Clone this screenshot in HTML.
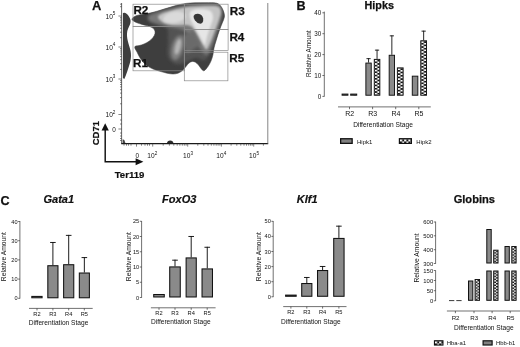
<!DOCTYPE html>
<html><head><meta charset="utf-8"><title>Figure</title>
<style>html,body{margin:0;padding:0;background:#fff;}body{width:520px;height:347px;overflow:hidden;}svg{display:block;filter:blur(0.35px);}text{font-family:"Liberation Sans", "DejaVu Sans", sans-serif;fill:#111;}</style>
</head><body>
<svg width="520" height="347" viewBox="0 0 520 347">
<defs>
<pattern id="chkB" width="5.0" height="3.3" patternUnits="userSpaceOnUse"><rect width="5.0" height="3.3" fill="#111"/><rect x="0" y="0" width="2.5" height="1.65" fill="#fff"/><rect x="2.5" y="1.65" width="2.5" height="1.65" fill="#fff"/></pattern>
<pattern id="chkG" width="3.8" height="2.9" patternUnits="userSpaceOnUse"><rect width="3.8" height="2.9" fill="#111"/><rect x="0" y="0" width="1.9" height="1.45" fill="#fff"/><rect x="1.9" y="1.45" width="1.9" height="1.45" fill="#fff"/></pattern>
<pattern id="chkL" width="4.2" height="4.2" patternUnits="userSpaceOnUse"><rect width="4.2" height="4.2" fill="#111"/><rect x="0" y="0" width="2.1" height="2.1" fill="#fff"/><rect x="2.1" y="2.1" width="2.1" height="2.1" fill="#fff"/></pattern>
<filter id="b1" x="-30%" y="-30%" width="160%" height="160%"><feGaussianBlur stdDeviation="1.6"/></filter>
<filter id="b2" x="-30%" y="-30%" width="160%" height="160%"><feGaussianBlur stdDeviation="1.0"/></filter>
<filter id="b3" x="-30%" y="-30%" width="160%" height="160%"><feGaussianBlur stdDeviation="0.5"/></filter>
<filter id="soft" x="-5%" y="-5%" width="110%" height="110%"><feGaussianBlur stdDeviation="0.35"/></filter>
<clipPath id="blobclip"><path d="M132.00,19.30 C132.08,18.60 133.00,17.48 134.00,16.80 C135.00,16.12 136.17,15.68 138.00,15.20 C139.83,14.72 142.67,14.33 145.00,13.90 C147.33,13.47 149.33,13.25 152.00,12.60 C154.67,11.95 158.00,10.88 161.00,10.00 C164.00,9.12 167.17,8.13 170.00,7.30 C172.83,6.47 175.33,5.65 178.00,5.00 C180.67,4.35 183.17,3.77 186.00,3.40 C188.83,3.03 191.67,2.92 195.00,2.80 C198.33,2.68 202.58,2.68 206.00,2.70 C209.42,2.72 213.17,2.48 215.50,2.90 C217.83,3.32 218.75,4.02 220.00,5.20 C221.25,6.38 222.25,8.28 223.00,10.00 C223.75,11.72 224.42,13.83 224.50,15.50 C224.58,17.17 224.08,18.25 223.50,20.00 C222.92,21.75 221.83,23.83 221.00,26.00 C220.17,28.17 219.33,30.50 218.50,33.00 C217.67,35.50 216.75,38.50 216.00,41.00 C215.25,43.50 214.52,45.67 214.00,48.00 C213.48,50.33 213.40,52.83 212.90,55.00 C212.40,57.17 211.82,59.08 211.00,61.00 C210.18,62.92 209.17,64.87 208.00,66.50 C206.83,68.13 205.17,70.47 204.00,70.80 C202.83,71.13 201.92,69.47 201.00,68.50 C200.08,67.53 199.42,66.03 198.50,65.00 C197.58,63.97 196.53,62.90 195.50,62.30 C194.47,61.70 193.38,61.28 192.30,61.40 C191.22,61.52 190.05,62.15 189.00,63.00 C187.95,63.85 187.08,65.25 186.00,66.50 C184.92,67.75 183.83,69.38 182.50,70.50 C181.17,71.62 179.58,72.62 178.00,73.20 C176.42,73.78 174.83,74.00 173.00,74.00 C171.17,74.00 169.17,73.65 167.00,73.20 C164.83,72.75 162.33,72.00 160.00,71.30 C157.67,70.60 155.08,69.88 153.00,69.00 C150.92,68.12 149.17,67.17 147.50,66.00 C145.83,64.83 144.33,63.50 143.00,62.00 C141.67,60.50 140.50,58.67 139.50,57.00 C138.50,55.33 137.75,53.42 137.00,52.00 C136.25,50.58 135.30,49.45 135.00,48.50 C134.70,47.55 134.53,46.78 135.20,46.30 C135.87,45.82 137.53,45.98 139.00,45.60 C140.47,45.22 142.33,44.72 144.00,44.00 C145.67,43.28 147.50,42.38 149.00,41.30 C150.50,40.22 152.00,38.80 153.00,37.50 C154.00,36.20 154.75,34.75 155.00,33.50 C155.25,32.25 155.00,30.98 154.50,30.00 C154.00,29.02 153.17,28.30 152.00,27.60 C150.83,26.90 149.17,26.33 147.50,25.80 C145.83,25.27 143.75,24.90 142.00,24.40 C140.25,23.90 138.42,23.37 137.00,22.80 C135.58,22.23 134.33,21.58 133.50,21.00 C132.67,20.42 131.92,20.00 132.00,19.30 Z"/></clipPath>
</defs>
<rect width="520" height="347" fill="#fff"/>
<g id="panelA">
<path d="M132.00,19.30 C132.08,18.60 133.00,17.48 134.00,16.80 C135.00,16.12 136.17,15.68 138.00,15.20 C139.83,14.72 142.67,14.33 145.00,13.90 C147.33,13.47 149.33,13.25 152.00,12.60 C154.67,11.95 158.00,10.88 161.00,10.00 C164.00,9.12 167.17,8.13 170.00,7.30 C172.83,6.47 175.33,5.65 178.00,5.00 C180.67,4.35 183.17,3.77 186.00,3.40 C188.83,3.03 191.67,2.92 195.00,2.80 C198.33,2.68 202.58,2.68 206.00,2.70 C209.42,2.72 213.17,2.48 215.50,2.90 C217.83,3.32 218.75,4.02 220.00,5.20 C221.25,6.38 222.25,8.28 223.00,10.00 C223.75,11.72 224.42,13.83 224.50,15.50 C224.58,17.17 224.08,18.25 223.50,20.00 C222.92,21.75 221.83,23.83 221.00,26.00 C220.17,28.17 219.33,30.50 218.50,33.00 C217.67,35.50 216.75,38.50 216.00,41.00 C215.25,43.50 214.52,45.67 214.00,48.00 C213.48,50.33 213.40,52.83 212.90,55.00 C212.40,57.17 211.82,59.08 211.00,61.00 C210.18,62.92 209.17,64.87 208.00,66.50 C206.83,68.13 205.17,70.47 204.00,70.80 C202.83,71.13 201.92,69.47 201.00,68.50 C200.08,67.53 199.42,66.03 198.50,65.00 C197.58,63.97 196.53,62.90 195.50,62.30 C194.47,61.70 193.38,61.28 192.30,61.40 C191.22,61.52 190.05,62.15 189.00,63.00 C187.95,63.85 187.08,65.25 186.00,66.50 C184.92,67.75 183.83,69.38 182.50,70.50 C181.17,71.62 179.58,72.62 178.00,73.20 C176.42,73.78 174.83,74.00 173.00,74.00 C171.17,74.00 169.17,73.65 167.00,73.20 C164.83,72.75 162.33,72.00 160.00,71.30 C157.67,70.60 155.08,69.88 153.00,69.00 C150.92,68.12 149.17,67.17 147.50,66.00 C145.83,64.83 144.33,63.50 143.00,62.00 C141.67,60.50 140.50,58.67 139.50,57.00 C138.50,55.33 137.75,53.42 137.00,52.00 C136.25,50.58 135.30,49.45 135.00,48.50 C134.70,47.55 134.53,46.78 135.20,46.30 C135.87,45.82 137.53,45.98 139.00,45.60 C140.47,45.22 142.33,44.72 144.00,44.00 C145.67,43.28 147.50,42.38 149.00,41.30 C150.50,40.22 152.00,38.80 153.00,37.50 C154.00,36.20 154.75,34.75 155.00,33.50 C155.25,32.25 155.00,30.98 154.50,30.00 C154.00,29.02 153.17,28.30 152.00,27.60 C150.83,26.90 149.17,26.33 147.50,25.80 C145.83,25.27 143.75,24.90 142.00,24.40 C140.25,23.90 138.42,23.37 137.00,22.80 C135.58,22.23 134.33,21.58 133.50,21.00 C132.67,20.42 131.92,20.00 132.00,19.30 Z" fill="#3e3e3e" stroke="#3e3e3e" stroke-width="0.5" stroke-linejoin="round"/>
<g clip-path="url(#blobclip)">
<path d="M150.00,14.00 C153.33,11.67 163.33,9.50 170.00,8.00 C176.67,6.50 182.17,5.58 190.00,5.00 C197.83,4.42 211.58,3.17 217.00,4.50 C222.42,5.83 222.50,8.42 222.50,13.00 C222.50,17.58 218.92,25.83 217.00,32.00 C215.08,38.17 213.00,45.33 211.00,50.00 C209.00,54.67 207.50,58.67 205.00,60.00 C202.50,61.33 199.17,57.67 196.00,58.00 C192.83,58.33 189.33,61.00 186.00,62.00 C182.67,63.00 179.00,65.00 176.00,64.00 C173.00,63.00 169.33,60.00 168.00,56.00 C166.67,52.00 168.33,44.83 168.00,40.00 C167.67,35.17 169.00,30.00 166.00,27.00 C163.00,24.00 152.67,24.17 150.00,22.00 C147.33,19.83 146.67,16.33 150.00,14.00 Z" fill="#525252" filter="url(#b1)"/>
<path d="M149.00,16.00 C150.42,14.67 154.50,13.70 158.00,12.50 C161.50,11.30 165.33,9.92 170.00,8.80 C174.67,7.68 180.33,6.50 186.00,5.80 C191.67,5.10 198.58,4.73 204.00,4.60 C209.42,4.47 215.50,3.85 218.50,5.00 C221.50,6.15 221.70,8.67 222.00,11.50 C222.30,14.33 221.25,18.25 220.30,22.00 C219.35,25.75 217.68,30.00 216.30,34.00 C214.92,38.00 213.55,42.50 212.00,46.00 C210.45,49.50 208.67,54.17 207.00,55.00 C205.33,55.83 203.83,53.00 202.00,51.00 C200.17,49.00 198.17,45.67 196.00,43.00 C193.83,40.33 191.33,37.25 189.00,35.00 C186.67,32.75 185.17,30.83 182.00,29.50 C178.83,28.17 174.00,27.92 170.00,27.00 C166.00,26.08 161.42,25.08 158.00,24.00 C154.58,22.92 151.00,21.83 149.50,20.50 C148.00,19.17 147.58,17.33 149.00,16.00 Z" fill="#787878" filter="url(#b1)"/>
<path d="M181,37 L194,30 L201,44 L187,54 Z" fill="#6a6a6a" filter="url(#b1)"/>
<ellipse cx="177.4" cy="47.8" rx="5.8" ry="12.5" fill="#828282" filter="url(#b1)" transform="rotate(14 177.4 47.8)"/>
<ellipse cx="177.9" cy="46.8" rx="2.8" ry="8" fill="#b6b6b6" filter="url(#b2)" transform="rotate(14 177.9 46.8)"/>
<path d="M158.00,17.50 C157.67,15.93 159.67,14.78 162.00,13.60 C164.33,12.42 168.00,11.45 172.00,10.40 C176.00,9.35 180.67,8.02 186.00,7.30 C191.33,6.58 198.75,6.23 204.00,6.10 C209.25,5.97 214.70,5.60 217.50,6.50 C220.30,7.40 220.52,9.42 220.80,11.50 C221.08,13.58 220.00,16.25 219.20,19.00 C218.40,21.75 217.10,25.00 216.00,28.00 C214.90,31.00 213.72,34.17 212.60,37.00 C211.48,39.83 210.35,42.92 209.30,45.00 C208.25,47.08 207.42,49.58 206.30,49.50 C205.18,49.42 203.98,46.75 202.60,44.50 C201.22,42.25 199.60,38.75 198.00,36.00 C196.40,33.25 194.83,29.83 193.00,28.00 C191.17,26.17 190.00,25.45 187.00,25.00 C184.00,24.55 178.83,25.63 175.00,25.30 C171.17,24.97 166.83,24.30 164.00,23.00 C161.17,21.70 158.33,19.07 158.00,17.50 Z" fill="#c4c4c4" filter="url(#b2)"/>
<ellipse cx="174.5" cy="17.4" rx="11.5" ry="5.6" fill="#dadada" filter="url(#b2)" transform="rotate(-10 174.5 17.4)"/>
<path d="M190.00,12.00 C190.90,10.28 193.67,9.67 196.00,9.20 C198.33,8.73 201.50,8.82 204.00,9.20 C206.50,9.58 209.50,10.03 211.00,11.50 C212.50,12.97 213.07,15.58 213.00,18.00 C212.93,20.42 211.40,23.50 210.60,26.00 C209.80,28.50 208.92,30.67 208.20,33.00 C207.48,35.33 206.83,38.00 206.30,40.00 C205.77,42.00 205.75,45.00 205.00,45.00 C204.25,45.00 202.97,42.00 201.80,40.00 C200.63,38.00 199.30,35.33 198.00,33.00 C196.70,30.67 195.23,28.25 194.00,26.00 C192.77,23.75 191.27,21.83 190.60,19.50 C189.93,17.17 189.10,13.72 190.00,12.00 Z" fill="#e6e6e6" filter="url(#b2)"/>
<path d="M193.6,16 Q194.5,13.6 198,13.8 Q202.5,14.6 203.2,18.5 Q203.6,23.2 200.4,23.8 Q197.4,23.6 195,20.5 Q193.2,18 193.6,16 Z" fill="#363636" filter="url(#b3)"/>
</g>
<path d="M122.9,13 L124.80,12.80 C125.20,13.05 126.47,13.60 127.20,14.30 C127.93,15.00 128.65,16.05 129.20,17.00 C129.75,17.95 130.32,18.92 130.50,20.00 C130.68,21.08 130.58,22.33 130.30,23.50 C130.02,24.67 129.30,25.75 128.80,27.00 C128.30,28.25 127.60,29.50 127.30,31.00 C127.00,32.50 126.92,34.33 127.00,36.00 C127.08,37.67 127.43,39.33 127.80,41.00 C128.17,42.67 128.73,44.33 129.20,46.00 C129.67,47.67 130.30,49.33 130.60,51.00 C130.90,52.67 131.03,54.33 131.00,56.00 C130.97,57.67 130.73,59.33 130.40,61.00 C130.07,62.67 129.50,64.33 129.00,66.00 C128.50,67.67 127.93,69.42 127.40,71.00 C126.87,72.58 126.32,74.17 125.80,75.50 C125.28,76.83 124.55,78.42 124.30,79.00 L122.9,78 Z" fill="#3e3e3e"/>
<path d="M166.9,143.4 Q167.2,140.6 170.2,140.4 Q173.2,140.6 173.5,143.4 Z" fill="#2a2a2a"/>
<path d="M122.6,139.3 L124.3,140 L125.4,142.9 L122.6,142.9 Z" fill="#444"/>
<rect x="133" y="4.2" width="51.3" height="22.1" fill="none" stroke="#8a8a8a" stroke-width="0.7"/>
<rect x="133" y="26.5" width="51.3" height="44.3" fill="none" stroke="#8a8a8a" stroke-width="0.7"/>
<rect x="184.3" y="4.2" width="43.8" height="25.2" fill="none" stroke="#8a8a8a" stroke-width="0.7"/>
<rect x="184.3" y="29.6" width="43.8" height="20.8" fill="none" stroke="#8a8a8a" stroke-width="0.7"/>
<rect x="184.3" y="52.2" width="43.6" height="28.6" fill="none" stroke="#8a8a8a" stroke-width="0.7"/>
<path d="M121.6,3 V143.6" fill="none" stroke="#333" stroke-width="0.75"/>
<path d="M121.2,143.7 H268.2" fill="none" stroke="#1a1a1a" stroke-width="1.2"/>
<path d="M267.8,3 V143.6" stroke="#777" stroke-width="0.9"/>
<path d="M118.4,16 H121.6 M118.4,47 H121.6 M118.4,79 H121.6 M118.4,114.5 H121.6 M118.4,129 H121.6 M120,37.7 H121.6 M120,32.2 H121.6 M120,28.3 H121.6 M120,25.3 H121.6 M120,22.9 H121.6 M120,20.8 H121.6 M120,19.0 H121.6 M120,17.4 H121.6 M120,69.4 H121.6 M120,63.7 H121.6 M120,59.7 H121.6 M120,56.6 H121.6 M120,54.1 H121.6 M120,52.0 H121.6 M120,50.1 H121.6 M120,48.5 H121.6 M120,103.8 H121.6 M120,97.6 H121.6 M120,93.1 H121.6 M120,89.7 H121.6 M120,86.9 H121.6 M120,84.5 H121.6 M120,82.4 H121.6 M120,80.6 H121.6 M120,6.7 H121.6 M120,4.2 H121.6 M120,120.0 H121.6 M120,124.0 H121.6 M120,133.0 H121.6 M120,136.0 H121.6 M120,138.5 H121.6 M120,140.5 H121.6 M136.5,143.6 V146.6 M152.7,143.6 V146.6 M187.7,143.6 V146.6 M221.4,143.6 V146.6 M253.7,143.6 V146.6 M163.2,143.6 V145.7 M169.4,143.6 V145.7 M173.8,143.6 V145.7 M177.2,143.6 V145.7 M179.9,143.6 V145.7 M182.3,143.6 V145.7 M184.3,143.6 V145.7 M186.1,143.6 V145.7 M197.8,143.6 V145.7 M203.8,143.6 V145.7 M208.0,143.6 V145.7 M211.3,143.6 V145.7 M213.9,143.6 V145.7 M216.2,143.6 V145.7 M218.1,143.6 V145.7 M219.9,143.6 V145.7 M231.1,143.6 V145.7 M236.8,143.6 V145.7 M240.8,143.6 V145.7 M244.0,143.6 V145.7 M246.5,143.6 V145.7 M248.7,143.6 V145.7 M250.6,143.6 V145.7 M252.2,143.6 V145.7 M263.4,143.6 V145.7 M124.0,143.6 V145.7 M126.5,143.6 V145.7 M128.5,143.6 V145.7 M131.0,143.6 V145.7 M141.5,143.6 V145.7 M145.0,143.6 V145.7 M147.5,143.6 V145.7 M149.5,143.6 V145.7" stroke="#333" stroke-width="0.6" fill="none"/>
<text x="115.4" y="18.7" font-size="6.6" text-anchor="end" fill="#333">10<tspan dy="-3.3" font-size="4.619999999999999">5</tspan></text>
<text x="115.4" y="49.7" font-size="6.6" text-anchor="end" fill="#333">10<tspan dy="-3.3" font-size="4.619999999999999">4</tspan></text>
<text x="115.4" y="81.7" font-size="6.6" text-anchor="end" fill="#333">10<tspan dy="-3.3" font-size="4.619999999999999">3</tspan></text>
<text x="115.4" y="117.2" font-size="6.6" text-anchor="end" fill="#333">10<tspan dy="-3.3" font-size="4.619999999999999">2</tspan></text>
<text x="115.9" y="131.5" font-size="6.4" text-anchor="end" fill="#333">0</text>
<text x="137.3" y="157.8" font-size="6.4" text-anchor="middle" fill="#333">0</text>
<text x="152.3" y="157.8" font-size="6.6" text-anchor="middle" fill="#333">10<tspan dy="-3.3" font-size="4.619999999999999">2</tspan></text>
<text x="188" y="157.8" font-size="6.6" text-anchor="middle" fill="#333">10<tspan dy="-3.3" font-size="4.619999999999999">3</tspan></text>
<text x="221.3" y="157.8" font-size="6.6" text-anchor="middle" fill="#333">10<tspan dy="-3.3" font-size="4.619999999999999">4</tspan></text>
<text x="254" y="157.8" font-size="6.6" text-anchor="middle" fill="#333">10<tspan dy="-3.3" font-size="4.619999999999999">5</tspan></text>
<text x="133.4" y="13.9" font-size="11.7" font-weight="bold" stroke="#111" stroke-width="0.25">R2</text>
<text x="229.7" y="14.5" font-size="11.7" font-weight="bold" stroke="#111" stroke-width="0.25">R3</text>
<text x="229.4" y="40.6" font-size="11.7" font-weight="bold" stroke="#111" stroke-width="0.25">R4</text>
<text x="229.2" y="62.2" font-size="11.7" font-weight="bold" stroke="#111" stroke-width="0.25">R5</text>
<text x="133.1" y="67.3" font-size="11.7" font-weight="bold" stroke="#111" stroke-width="0.25">R1</text>
<text x="91.9" y="10.1" font-size="12.9" font-weight="bold" stroke="#111" stroke-width="0.25">A</text>
<path d="M105.2,128 V161.8 H137" fill="none" stroke="#111" stroke-width="1.45"/>
<path d="M105.2,123.2 L108.8,130.4 H101.6 Z" fill="#111"/>
<path d="M143.4,161.8 L135.6,165.3 V158.3 Z" fill="#111"/>
<text transform="translate(98.9,145.3) rotate(-90)" font-size="9.5" font-weight="bold" stroke="#111" stroke-width="0.2">CD71</text>
<text x="114.7" y="177.7" font-size="9.6" font-weight="bold" stroke="#111" stroke-width="0.2">Ter119</text>
</g>
<g id="panelB">
<text x="296.6" y="10.2" font-size="12.6" font-weight="bold" stroke="#111" stroke-width="0.25">B</text>
<text x="379.2" y="8.5" font-size="10.8" font-weight="bold" stroke="#111" stroke-width="0.25" text-anchor="middle">Hipks</text>
<path d="M324.3,11.6 V96.6" stroke="#333" stroke-width="0.7" fill="none"/>
<path d="M322.4,96.40 H324.3" stroke="#333" stroke-width="0.7"/>
<text x="321.2" y="98.70" font-size="6.3" text-anchor="end" fill="#222">0</text>
<path d="M322.4,75.50 H324.3" stroke="#333" stroke-width="0.7"/>
<text x="321.2" y="77.80" font-size="6.3" text-anchor="end" fill="#222">10</text>
<path d="M322.4,54.60 H324.3" stroke="#333" stroke-width="0.7"/>
<text x="321.2" y="56.90" font-size="6.3" text-anchor="end" fill="#222">20</text>
<path d="M322.4,33.70 H324.3" stroke="#333" stroke-width="0.7"/>
<text x="321.2" y="36.00" font-size="6.3" text-anchor="end" fill="#222">30</text>
<path d="M322.4,12.80 H324.3" stroke="#333" stroke-width="0.7"/>
<text x="321.2" y="15.10" font-size="6.3" text-anchor="end" fill="#222">40</text>
<text transform="translate(310.8,53.8) rotate(-90)" font-size="6.4" text-anchor="middle" fill="#333">Relative Amount</text>
<rect x="342.08" y="94.07" width="5.85" height="1.15" fill="#8a8a8a" stroke="#111" stroke-width="0.95"/>
<g transform="translate(351.15,94.55)"><rect x="-0.47" y="-0.47" width="6.05" height="1.15" fill="url(#chkB)" stroke="#111" stroke-width="0.95"/></g>
<path d="M368.55,62.60 V58.20 M366.45,58.65 H370.65" stroke="#111" stroke-width="0.9" fill="none"/>
<path d="M377.05,58.90 V49.70 M374.95,50.15 H379.15" stroke="#111" stroke-width="0.9" fill="none"/>
<rect x="365.88" y="63.08" width="5.35" height="32.15" fill="#8a8a8a" stroke="#111" stroke-width="0.95"/>
<g transform="translate(374.75,59.85)"><rect x="-0.47" y="-0.47" width="5.55" height="35.85" fill="url(#chkB)" stroke="#111" stroke-width="0.95"/></g>
<path d="M391.85,54.80 V35.40 M389.75,35.85 H393.95" stroke="#111" stroke-width="0.9" fill="none"/>
<rect x="389.18" y="55.27" width="5.35" height="39.95" fill="#8a8a8a" stroke="#111" stroke-width="0.95"/>
<g transform="translate(397.85,68.35)"><rect x="-0.47" y="-0.47" width="5.75" height="27.35" fill="url(#chkB)" stroke="#111" stroke-width="0.95"/></g>
<path d="M423.65,40.30 V30.70 M421.55,31.15 H425.75" stroke="#111" stroke-width="0.9" fill="none"/>
<rect x="412.28" y="76.17" width="5.55" height="19.05" fill="#8a8a8a" stroke="#111" stroke-width="0.95"/>
<g transform="translate(421.25,41.25)"><rect x="-0.47" y="-0.47" width="5.75" height="54.45" fill="url(#chkB)" stroke="#111" stroke-width="0.95"/></g>
<path d="M338,106.9 H430.8" stroke="#333" stroke-width="0.7"/>
<path d="M349.5,106.9 V109.2" stroke="#333" stroke-width="0.7"/>
<text x="349.7" y="116" font-size="7" text-anchor="middle" fill="#222">R2</text>
<path d="M372.6,106.9 V109.2" stroke="#333" stroke-width="0.7"/>
<text x="372.8" y="116" font-size="7" text-anchor="middle" fill="#222">R3</text>
<path d="M395.7,106.9 V109.2" stroke="#333" stroke-width="0.7"/>
<text x="395.9" y="116" font-size="7" text-anchor="middle" fill="#222">R4</text>
<path d="M418.8,106.9 V109.2" stroke="#333" stroke-width="0.7"/>
<text x="419.0" y="116" font-size="7" text-anchor="middle" fill="#222">R5</text>
<text x="383" y="126.8" font-size="6.6" text-anchor="middle" fill="#333">Differentiation Stage</text>
<rect x="340.65" y="138.75" width="11.50" height="4.60" fill="#808080" stroke="#111" stroke-width="1.3"/>
<text x="357" y="143.6" font-size="6" fill="#333">Hipk1</text>
<g transform="translate(400.00,139.30)"><rect x="-0.60" y="-0.60" width="12.00" height="4.70" fill="url(#chkL)" stroke="#111" stroke-width="1.2"/></g>
<text x="416.3" y="143.6" font-size="6" fill="#333">Hipk2</text>
</g>
<g id="panelC">
<text x="0.6" y="204.6" font-size="12.6" font-weight="bold" stroke="#111" stroke-width="0.25">C</text>
<text x="58.8" y="203.4" font-size="11" font-weight="bold" font-style="italic" stroke="#111" stroke-width="0.2" text-anchor="middle">Gata1</text>
<path d="M19.90,221.00 V298.60" stroke="#333" stroke-width="0.7"/>
<path d="M18.10,298.30 H19.90" stroke="#333" stroke-width="0.7"/>
<text x="17.50" y="300.30" font-size="5.6" text-anchor="end" fill="#222">0</text>
<path d="M18.10,279.10 H19.90" stroke="#333" stroke-width="0.7"/>
<text x="17.50" y="281.10" font-size="5.6" text-anchor="end" fill="#222">10</text>
<path d="M18.10,259.90 H19.90" stroke="#333" stroke-width="0.7"/>
<text x="17.50" y="261.90" font-size="5.6" text-anchor="end" fill="#222">20</text>
<path d="M18.10,240.70 H19.90" stroke="#333" stroke-width="0.7"/>
<text x="17.50" y="242.70" font-size="5.6" text-anchor="end" fill="#222">30</text>
<path d="M18.10,221.50 H19.90" stroke="#333" stroke-width="0.7"/>
<text x="17.50" y="223.50" font-size="5.6" text-anchor="end" fill="#222">40</text>
<text transform="translate(5.7,256.6) rotate(-90)" font-size="6.75" text-anchor="middle" fill="#2a2a2a">Relative Amount</text>
<rect x="31.82" y="296.42" width="10.25" height="1.35" fill="#8a8a8a" stroke="#111" stroke-width="1.05"/>
<path d="M37.0,308.40 V310.40" stroke="#333" stroke-width="0.7"/>
<text x="37.0" y="316.40" font-size="5.7" text-anchor="middle" fill="#222">R2</text>
<path d="M52.90,265.20 V242.00 M50.10,242.47 H55.70" stroke="#111" stroke-width="0.95" fill="none"/>
<rect x="47.82" y="265.72" width="10.15" height="32.05" fill="#8a8a8a" stroke="#111" stroke-width="1.05"/>
<path d="M52.9,308.40 V310.40" stroke="#333" stroke-width="0.7"/>
<text x="52.9" y="316.40" font-size="5.7" text-anchor="middle" fill="#222">R3</text>
<path d="M68.70,264.20 V234.90 M65.90,235.38 H71.50" stroke="#111" stroke-width="0.95" fill="none"/>
<rect x="63.62" y="264.72" width="10.15" height="33.05" fill="#8a8a8a" stroke="#111" stroke-width="1.05"/>
<path d="M68.7,308.40 V310.40" stroke="#333" stroke-width="0.7"/>
<text x="68.7" y="316.40" font-size="5.7" text-anchor="middle" fill="#222">R4</text>
<path d="M84.35,272.50 V257.10 M81.55,257.58 H87.15" stroke="#111" stroke-width="0.95" fill="none"/>
<rect x="79.33" y="273.02" width="10.05" height="24.75" fill="#8a8a8a" stroke="#111" stroke-width="1.05"/>
<path d="M84.3,308.40 V310.40" stroke="#333" stroke-width="0.7"/>
<text x="84.3" y="316.40" font-size="5.7" text-anchor="middle" fill="#222">R5</text>
<path d="M29.0,308.40 H92.7" stroke="#333" stroke-width="0.7"/>
<text x="58.5" y="324.60" font-size="6.6" text-anchor="middle" fill="#333">Differentiation Stage</text>
<text x="179.2" y="203.4" font-size="11" font-weight="bold" font-style="italic" stroke="#111" stroke-width="0.2" text-anchor="middle">FoxO3</text>
<path d="M141.60,221.00 V297.80" stroke="#333" stroke-width="0.7"/>
<path d="M139.80,297.50 H141.60" stroke="#333" stroke-width="0.7"/>
<text x="139.20" y="299.50" font-size="5.6" text-anchor="end" fill="#222">0</text>
<path d="M139.80,282.25 H141.60" stroke="#333" stroke-width="0.7"/>
<text x="139.20" y="284.25" font-size="5.6" text-anchor="end" fill="#222">5</text>
<path d="M139.80,267.00 H141.60" stroke="#333" stroke-width="0.7"/>
<text x="139.20" y="269.00" font-size="5.6" text-anchor="end" fill="#222">10</text>
<path d="M139.80,251.75 H141.60" stroke="#333" stroke-width="0.7"/>
<text x="139.20" y="253.75" font-size="5.6" text-anchor="end" fill="#222">15</text>
<path d="M139.80,236.50 H141.60" stroke="#333" stroke-width="0.7"/>
<text x="139.20" y="238.50" font-size="5.6" text-anchor="end" fill="#222">20</text>
<path d="M139.80,221.25 H141.60" stroke="#333" stroke-width="0.7"/>
<text x="139.20" y="223.25" font-size="5.6" text-anchor="end" fill="#222">25</text>
<text transform="translate(130.6,256.6) rotate(-90)" font-size="6.75" text-anchor="middle" fill="#2a2a2a">Relative Amount</text>
<rect x="153.72" y="294.52" width="10.55" height="2.45" fill="#8a8a8a" stroke="#111" stroke-width="1.05"/>
<path d="M159.0,307.80 V309.80" stroke="#333" stroke-width="0.7"/>
<text x="159.0" y="315.00" font-size="5.7" text-anchor="middle" fill="#222">R2</text>
<path d="M175.00,266.40 V259.70 M172.20,260.18 H177.80" stroke="#111" stroke-width="0.95" fill="none"/>
<rect x="169.72" y="266.92" width="10.55" height="30.05" fill="#8a8a8a" stroke="#111" stroke-width="1.05"/>
<path d="M175.0,307.80 V309.80" stroke="#333" stroke-width="0.7"/>
<text x="175.0" y="315.00" font-size="5.7" text-anchor="middle" fill="#222">R3</text>
<path d="M191.20,257.40 V236.00 M188.40,236.47 H194.00" stroke="#111" stroke-width="0.95" fill="none"/>
<rect x="186.12" y="257.92" width="10.15" height="39.05" fill="#8a8a8a" stroke="#111" stroke-width="1.05"/>
<path d="M191.2,307.80 V309.80" stroke="#333" stroke-width="0.7"/>
<text x="191.2" y="315.00" font-size="5.7" text-anchor="middle" fill="#222">R4</text>
<path d="M207.25,268.40 V246.80 M204.45,247.28 H210.05" stroke="#111" stroke-width="0.95" fill="none"/>
<rect x="202.03" y="268.92" width="10.45" height="28.05" fill="#8a8a8a" stroke="#111" stroke-width="1.05"/>
<path d="M207.2,307.80 V309.80" stroke="#333" stroke-width="0.7"/>
<text x="207.2" y="315.00" font-size="5.7" text-anchor="middle" fill="#222">R5</text>
<path d="M150.9,307.80 H215.6" stroke="#333" stroke-width="0.7"/>
<text x="180.8" y="323.80" font-size="6.6" text-anchor="middle" fill="#333">Differentiation Stage</text>
<text x="307.2" y="203.4" font-size="11" font-weight="bold" font-style="italic" stroke="#111" stroke-width="0.2" text-anchor="middle">Klf1</text>
<path d="M273.20,221.00 V297.10" stroke="#333" stroke-width="0.7"/>
<path d="M271.40,296.80 H273.20" stroke="#333" stroke-width="0.7"/>
<text x="270.80" y="298.80" font-size="5.6" text-anchor="end" fill="#222">0</text>
<path d="M271.40,281.70 H273.20" stroke="#333" stroke-width="0.7"/>
<text x="270.80" y="283.70" font-size="5.6" text-anchor="end" fill="#222">10</text>
<path d="M271.40,266.60 H273.20" stroke="#333" stroke-width="0.7"/>
<text x="270.80" y="268.60" font-size="5.6" text-anchor="end" fill="#222">20</text>
<path d="M271.40,251.50 H273.20" stroke="#333" stroke-width="0.7"/>
<text x="270.80" y="253.50" font-size="5.6" text-anchor="end" fill="#222">30</text>
<path d="M271.40,236.40 H273.20" stroke="#333" stroke-width="0.7"/>
<text x="270.80" y="238.40" font-size="5.6" text-anchor="end" fill="#222">40</text>
<path d="M271.40,221.30 H273.20" stroke="#333" stroke-width="0.7"/>
<text x="270.80" y="223.30" font-size="5.6" text-anchor="end" fill="#222">50</text>
<text transform="translate(261.2,256.6) rotate(-90)" font-size="6.75" text-anchor="middle" fill="#2a2a2a">Relative Amount</text>
<rect x="285.62" y="295.12" width="10.55" height="1.15" fill="#8a8a8a" stroke="#111" stroke-width="1.05"/>
<path d="M290.9,306.60 V308.60" stroke="#333" stroke-width="0.7"/>
<text x="290.9" y="314.40" font-size="5.7" text-anchor="middle" fill="#222">R2</text>
<path d="M306.80,283.00 V277.00 M304.00,277.48 H309.60" stroke="#111" stroke-width="0.95" fill="none"/>
<rect x="301.72" y="283.52" width="10.15" height="12.75" fill="#8a8a8a" stroke="#111" stroke-width="1.05"/>
<path d="M306.8,306.60 V308.60" stroke="#333" stroke-width="0.7"/>
<text x="306.8" y="314.40" font-size="5.7" text-anchor="middle" fill="#222">R3</text>
<path d="M322.60,270.00 V266.00 M319.80,266.48 H325.40" stroke="#111" stroke-width="0.95" fill="none"/>
<rect x="317.52" y="270.52" width="10.15" height="25.75" fill="#8a8a8a" stroke="#111" stroke-width="1.05"/>
<path d="M322.6,306.60 V308.60" stroke="#333" stroke-width="0.7"/>
<text x="322.6" y="314.40" font-size="5.7" text-anchor="middle" fill="#222">R4</text>
<path d="M338.90,237.90 V225.70 M336.10,226.17 H341.70" stroke="#111" stroke-width="0.95" fill="none"/>
<rect x="333.72" y="238.43" width="10.35" height="57.85" fill="#8a8a8a" stroke="#111" stroke-width="1.05"/>
<path d="M338.9,306.60 V308.60" stroke="#333" stroke-width="0.7"/>
<text x="338.9" y="314.40" font-size="5.7" text-anchor="middle" fill="#222">R5</text>
<path d="M283.2,306.60 H346.5" stroke="#333" stroke-width="0.7"/>
<text x="310.8" y="324.20" font-size="6.6" text-anchor="middle" fill="#333">Differentiation Stage</text>
<text x="474.3" y="203.3" font-size="11.1" font-weight="bold" stroke="#111" stroke-width="0.25" text-anchor="middle">Globins</text>
<path d="M435.6,221.6 V263.8 M435.6,270.3 V301" stroke="#333" stroke-width="0.7"/>
<path d="M433.80,222.00 H435.60" stroke="#333" stroke-width="0.7"/>
<text x="433.20" y="224.10" font-size="5.9" text-anchor="end" fill="#222">600</text>
<path d="M433.80,235.80 H435.60" stroke="#333" stroke-width="0.7"/>
<text x="433.20" y="237.90" font-size="5.9" text-anchor="end" fill="#222">500</text>
<path d="M433.80,249.70 H435.60" stroke="#333" stroke-width="0.7"/>
<text x="433.20" y="251.80" font-size="5.9" text-anchor="end" fill="#222">400</text>
<path d="M433.80,263.50 H435.60" stroke="#333" stroke-width="0.7"/>
<text x="433.20" y="265.60" font-size="5.9" text-anchor="end" fill="#222">300</text>
<path d="M433.80,270.50 H435.60" stroke="#333" stroke-width="0.7"/>
<text x="433.20" y="272.60" font-size="5.9" text-anchor="end" fill="#222">150</text>
<path d="M433.80,280.50 H435.60" stroke="#333" stroke-width="0.7"/>
<text x="433.20" y="282.60" font-size="5.9" text-anchor="end" fill="#222">100</text>
<path d="M433.80,290.70 H435.60" stroke="#333" stroke-width="0.7"/>
<text x="433.20" y="292.80" font-size="5.9" text-anchor="end" fill="#222">50</text>
<path d="M433.80,300.80 H435.60" stroke="#333" stroke-width="0.7"/>
<text x="433.20" y="302.90" font-size="5.9" text-anchor="end" fill="#222">0</text>
<text transform="translate(419.2,258) rotate(-90)" font-size="6.75" text-anchor="middle" fill="#333">Relative Amount</text>
<path d="M449,300.6 H454.3 M456.3,300.6 H461.6" stroke="#222" stroke-width="0.9"/>
<rect x="468.50" y="281.00" width="4.30" height="19.30" fill="#8a8a8a" stroke="#111" stroke-width="1.0"/>
<g transform="translate(475.55,279.95)"><rect x="-0.47" y="-0.47" width="4.45" height="20.85" fill="url(#chkG)" stroke="#111" stroke-width="0.95"/></g>
<rect x="486.80" y="229.50" width="4.40" height="33.50" fill="#8a8a8a" stroke="#111" stroke-width="1.0"/>
<g transform="translate(494.15,250.65)"><rect x="-0.47" y="-0.47" width="4.35" height="12.85" fill="url(#chkG)" stroke="#111" stroke-width="0.95"/></g>
<rect x="486.80" y="271.00" width="4.40" height="29.30" fill="#8a8a8a" stroke="#111" stroke-width="1.0"/>
<g transform="translate(494.15,271.45)"><rect x="-0.47" y="-0.47" width="4.35" height="29.35" fill="url(#chkG)" stroke="#111" stroke-width="0.95"/></g>
<rect x="505.00" y="246.50" width="4.30" height="16.50" fill="#8a8a8a" stroke="#111" stroke-width="1.0"/>
<g transform="translate(512.25,246.95)"><rect x="-0.47" y="-0.47" width="4.35" height="16.55" fill="url(#chkG)" stroke="#111" stroke-width="0.95"/></g>
<rect x="505.00" y="271.00" width="4.30" height="29.30" fill="#8a8a8a" stroke="#111" stroke-width="1.0"/>
<g transform="translate(512.25,271.45)"><rect x="-0.47" y="-0.47" width="4.35" height="29.35" fill="url(#chkG)" stroke="#111" stroke-width="0.95"/></g>
<path d="M446.9,311 H520" stroke="#333" stroke-width="0.7"/>
<path d="M455.4,311 V313.2" stroke="#333" stroke-width="0.7"/>
<text x="455.6" y="319.6" font-size="6.2" text-anchor="middle" fill="#222">R2</text>
<path d="M474.0,311 V313.2" stroke="#333" stroke-width="0.7"/>
<text x="474.2" y="319.6" font-size="6.2" text-anchor="middle" fill="#222">R3</text>
<path d="M492.1,311 V313.2" stroke="#333" stroke-width="0.7"/>
<text x="492.3" y="319.6" font-size="6.2" text-anchor="middle" fill="#222">R4</text>
<path d="M510.2,311 V313.2" stroke="#333" stroke-width="0.7"/>
<text x="510.4" y="319.6" font-size="6.2" text-anchor="middle" fill="#222">R5</text>
<text x="483.8" y="329.9" font-size="6.6" text-anchor="middle" fill="#333">Differentiation Stage</text>
<g transform="translate(435.00,341.30)"><rect x="-0.55" y="-0.55" width="8.50" height="4.30" fill="url(#chkL)" stroke="#111" stroke-width="1.1"/></g>
<text x="446.7" y="345.4" font-size="5.9" fill="#333">Hba-a1</text>
<rect x="483.10" y="340.80" width="9.00" height="4.20" fill="#808080" stroke="#111" stroke-width="1.2"/>
<text x="495.9" y="345.4" font-size="5.9" fill="#333">Hbb-b1</text>
</g>
</svg>
</body></html>
